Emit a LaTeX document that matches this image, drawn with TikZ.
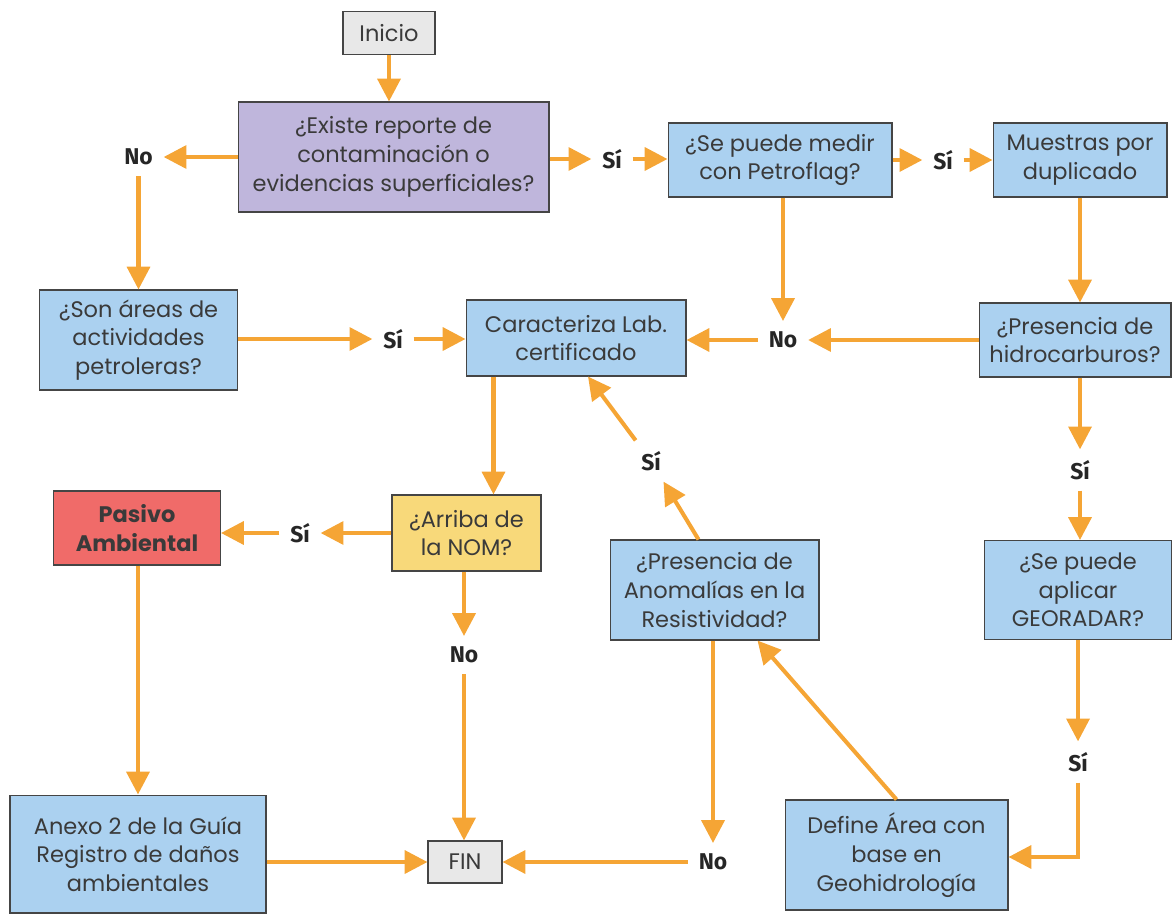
\documentclass[tikz,border=0pt]{standalone}
\usepackage{fontspec}
\setmainfont{Poppins}
\newfontfamily\etiqfont{Fira Sans}
\usepackage{tikz}
\usetikzlibrary{arrows.meta}
\definecolor{naranja}{HTML}{F5A535}
\definecolor{borde}{HTML}{454545}
\definecolor{texto}{HTML}{3A3A3A}
\definecolor{gris}{HTML}{E8E8E8}
\definecolor{morado}{HTML}{BFB6DC}
\definecolor{azul}{HTML}{ABD1F0}
\definecolor{amarillo}{HTML}{F8D97A}
\definecolor{rojo}{HTML}{F06B69}
\tikzset{caja/.style = {draw = borde, line width = 0.6pt, align = center, inner sep = 0, text = texto, font = \fontsize{12.8}{16.3}\selectfont}}
\tikzset{etiq/.style = {font = \etiqfont\bfseries\fontsize{13}{15}\selectfont, inner sep = 6pt, text = black!85}}
\tikzset{flecha/.style = {naranja, line width = 2.3pt, -{Triangle[length = 13pt, width = 13pt]}}}

\begin{document}
\begin{tikzpicture}[x=0.02cm, y=-0.02cm]
    \useasboundingbox (0, 0) rectangle (1172, 913);
    % cajas
    \node [caja, fill = gris, minimum width = 1.84cm, minimum height = 0.86cm] (ini) at (389, 33) {Inicio};
    \node [caja, fill = morado, minimum width = 6.22cm, minimum height = 2.2cm] (ex) at (393.5, 157) {¿Existe reporte de\\contaminación o\\evidencias superficiales?};
    \node [caja, fill = azul, minimum width = 4.48cm, minimum height = 1.48cm] (pf) at (780, 160) {¿Se puede medir\\con Petroflag?};
    \node [caja, fill = azul, minimum width = 3.48cm, minimum height = 1.48cm] (mu) at (1080, 160) {Muestras por\\duplicado};
    \node [caja, fill = azul, minimum width = 3.84cm, minimum height = 1.48cm] (hid) at (1075, 340) {¿Presencia de\\hidrocarburos?};
    \node [caja, fill = azul, minimum width = 4.4cm, minimum height = 1.52cm] (car) at (576, 338) {Caracteriza Lab.\\certificado};
    \node [caja, fill = azul, minimum width = 3.96cm, minimum height = 2cm] (son) at (138.5, 340) {¿Son áreas de\\actividades\\petroleras?};
    \node [caja, fill = amarillo, minimum width = 2.98cm, minimum height = 1.52cm] (arr) at (466.5, 533) {¿Arriba de\\la NOM?};
    \node [caja, fill = rojo, minimum width = 3.34cm, minimum height = 1.48cm, font = \fontsize{12.8}{16.3}\selectfont\bfseries] (pas) at (137, 528) {Pasivo\\Ambiental};
    \node [caja, fill = azul, minimum width = 4.18cm, minimum height = 2cm] (ano) at (714.5, 590) {¿Presencia de\\Anomalías en la\\Resistividad?};
    \node [caja, fill = azul, minimum width = 3.74cm, minimum height = 1.98cm] (geo) at (1078, 590) {¿Se puede\\aplicar\\GEORADAR?};
    \node [caja, fill = gris, minimum width = 1.48cm, minimum height = 0.84cm] (fin) at (465, 862) {FIN};
    \node [caja, fill = azul, minimum width = 5.12cm, minimum height = 2.36cm] (anx) at (138, 854) {Anexo 2 de la Guía\\Registro de daños\\ambientales};
    \node [caja, fill = azul, minimum width = 4.46cm, minimum height = 2.2cm] (def) at (896.5, 855) {Define Área con\\base en\\Geohidrología};
    % etiquetas
    \node [etiq] (no1) at (138.5, 157) {No};
    \node [etiq] (si1) at (612, 159) {Sí};
    \node [etiq] (si2) at (943, 160) {Sí};
    \node [etiq] (no2) at (783, 340) {No};
    \node [etiq] (si3) at (393, 339) {Sí};
    \node [etiq] (si4) at (300, 533) {Sí};
    \node [etiq] (no3) at (464, 655) {No};
    \node [etiq] (si5) at (651, 461) {Sí};
    \node [etiq] (no4) at (713, 862) {No};
    \node [etiq] (si6) at (1080, 470) {Sí};
    \node [etiq] (si7) at (1078, 762) {Sí};
    % flechas
    \draw [flecha] (ini.south) -- (ini |- ex.north);
    \draw [flecha] (ex) -- (no1);
    \draw [flecha] (no1) -- (no1 |- son.north);
    \draw [flecha] (si1 -| ex.east) -- (si1);
    \draw [flecha] (si1) -- (si1 -| pf.west);
    \draw [flecha] (pf) -- (si2);
    \draw [flecha] (si2) -- (mu);
    \draw [flecha] (mu.south) -- (mu |- hid.north);
    \draw [flecha] (pf.south -| no2) -- (no2);
    \draw [flecha] (hid) -- (no2);
    \draw [flecha] (no2) -- (no2 -| car.east);
    \draw [flecha] (si3 -| son.east) -- (si3);
    \draw [flecha] (si3) -- (si3 -| car.west);
    \coordinate (c1) at ([xshift = 0.56cm]car.south west);
    \draw [flecha] (c1) -- (c1 |- arr.north);
    \draw [flecha] (arr) -- (si4);
    \draw [flecha] (si4) -- (si4 -| pas.east);
    \draw [flecha] (pas.south -| anx) -- (anx.north);
    \draw [flecha] (arr.south -| no3) -- (no3);
    \draw [flecha] (no3) -- (no3 |- fin.north);
    \draw [flecha] (fin -| anx.east) -- (fin);
    \draw [flecha] (ano.south -| no4) -- (no4);
    \draw [flecha] (no4) -- (fin);
    \draw [flecha] ([xshift = -0.32cm]ano.north) -- (si5);
    \draw [flecha] (si5) -- ([xshift = 0.24cm]car.south);
    \draw [flecha] (hid.south -| si6) -- (si6);
    \draw [flecha] (si6) -- (si6 |- geo.north);
    \draw [flecha] (geo.south -| si7) -- (si7);
    \draw [flecha] (si7) |- ([yshift = -0.04cm]def.east);
    \draw [flecha] (def.north) -- ([xshift = 0.86cm]ano.south);
  \end{tikzpicture}
\end{document}
